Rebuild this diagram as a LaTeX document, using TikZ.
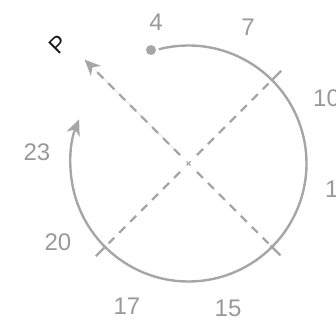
\documentclass[tikz,border=0pt]{standalone}
\usepackage{fontspec}
\setmainfont{Liberation Sans}
\usetikzlibrary{arrows.meta,calc}
\definecolor{linegray}{HTML}{A6A6A6}
\definecolor{textgray}{HTML}{999999}
\begin{document}
\begin{tikzpicture}[x=1pt,y=1pt,
  ring/.style={draw=linegray, line width=2.4pt},
  guide/.style={draw=linegray, line width=2.2pt, dash pattern=on 8.5pt off 7pt},
  tick/.style={draw=linegray, line width=2.2pt},
  tipstyle/.style={-{Stealth[length=16pt,width=14pt,inset=5pt]}},
  hour/.style={text=textgray, font=\fontsize{24}{24}\selectfont, inner sep=0pt},
  dotstyle/.style={circle, fill=linegray, minimum size=10pt, inner sep=0pt}
]
\useasboundingbox (0,0) rectangle (336,323);
\coordinate (C) at (188.5,159.5);
% guide lines
\coordinate (NEa) at ($(C)+(45:12)$);
\coordinate (NEb) at ($(C)+(45:113)$);
\coordinate (NEc) at ($(C)+(45:117)$);
\coordinate (NEd) at ($(C)+(45:131)$);
\coordinate (SWa) at ($(C)+(225:12)$);
\coordinate (SWb) at ($(C)+(225:113)$);
\coordinate (SWc) at ($(C)+(225:117)$);
\coordinate (SWd) at ($(C)+(225:131)$);
\coordinate (SEa) at ($(C)+(-45:12)$);
\coordinate (SEb) at ($(C)+(-45:113)$);
\coordinate (SEc) at ($(C)+(-45:116)$);
\coordinate (SEd) at ($(C)+(-45:130)$);
\coordinate (NWa) at ($(C)+(135:12)$);
\coordinate (NWd) at ($(C)+(135:147)$);
\draw[guide] (NEa) -- (NEb);
\draw[tick] (NEc) -- (NEd);
\draw[guide] (SWa) -- (SWb);
\draw[tick] (SWc) -- (SWd);
\draw[guide] (SEa) -- (SEb);
\draw[tick] (SEc) -- (SEd);
\draw[guide, tipstyle, fill=linegray] (NWa) -- (NWd);
% centre mark
\draw[linegray, line width=1.3pt] ($(C)+(-2,-2)$) -- ($(C)+(2,2)$);
\draw[linegray, line width=1.3pt] ($(C)+(-2,2)$) -- ($(C)+(2,-2)$);
% ring
\node[dotstyle] (start) at ($(C)+(108.3:119.5)$) {};
\draw[ring, tipstyle, fill=none] ($(C)+(104.6:118)$) arc[start angle=104.6, end angle=-202, radius=118];
% labels
\node[hour] (h4) at (156,301) {4};
\node[hour] (h7) at (248,296) {7};
\node[hour, anchor=west] (h10) at (313,225) {10};
\node[hour, anchor=west] (h13) at (325,134) {1};
\node[hour] (h15) at (228,15) {15};
\node[hour] (h17) at (127,17) {17};
\node[hour] (h20) at (58,81) {20};
\node[hour] (h23) at (37,171) {23};
\node[font=\fontsize{23}{23}\selectfont, text=black!90, rotate=45, inner sep=0pt] (p) at (58,279) {P};
\end{tikzpicture}
\end{document}
